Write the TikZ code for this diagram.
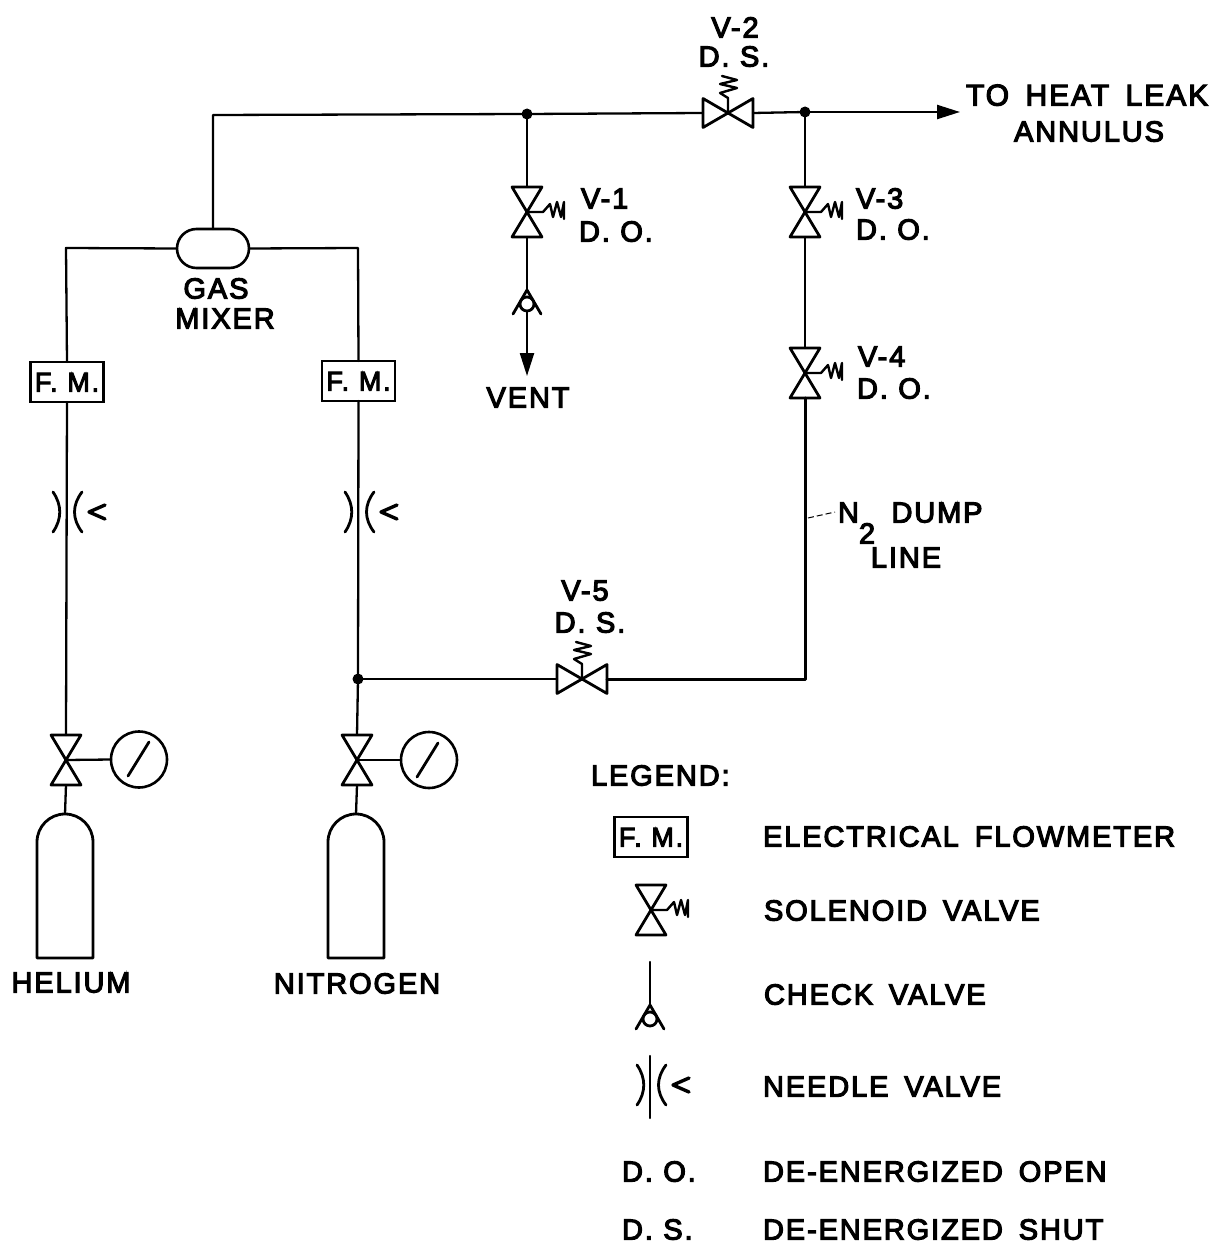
\documentclass[tikz,border=0pt]{standalone}
\usepackage{fontspec}
\setmainfont[LetterSpace=6.5,WordSpace=1.6,FakeBold=4]{Liberation Sans}
\newfontfamily\tight[LetterSpace=6.5,WordSpace=1.05,FakeBold=4]{Liberation Sans}
\usetikzlibrary{arrows.meta,shapes.misc}
\tikzset{
 pipe/.style={line width=2.3pt,line cap=round,line join=round},
 heavy/.style={line width=3pt,line cap=round,line join=round},
 sym/.style={line width=2.8pt,line join=round,line cap=round},
 vbox/.style={minimum width=30pt,minimum height=50pt,inner sep=0pt,outer sep=0pt},
 hbox/.style={minimum width=50pt,minimum height=29pt,inner sep=0pt,outer sep=0pt},
 fmbox/.style={draw,line width=2.8pt,minimum width=73pt,minimum height=40pt,inner sep=0pt,outer sep=0pt,font=\fontsize{27}{27}\selectfont\tight,text height=19pt,text depth=0pt},
 gaugebox/.style={draw,circle,line width=2.6pt,minimum size=56pt,inner sep=0pt,outer sep=0pt},
 dotnode/.style={fill,circle,minimum size=11pt,inner sep=0pt,outer sep=0pt},
 label/.style={font=\fontsize{29}{29}\selectfont,inner sep=0pt,outer sep=0pt,text height=21pt,text depth=0pt},
 short/.style={label,font=\fontsize{29}{29}\selectfont\tight},
 mixer/.style={draw,rounded rectangle,line width=2.6pt,minimum width=72pt,minimum height=39pt,inner sep=0pt,outer sep=0pt},
 arrowline/.style={pipe,-{Triangle[length=23pt,width=14pt]}},
}
\newcommand\vvalve[2]{\node[vbox] (#1) at (#2) {};
 \draw[sym] (#1.north west) -- (#1.north east) -- (#1.south west) -- (#1.south east) -- cycle;}
\newcommand\hvalve[2]{\node[hbox] (#1) at (#2) {};
 \draw[sym] (#1.north west) -- (#1.south west) -- (#1.north east) -- (#1.south east) -- cycle;}
\newcommand\sprR[1]{\draw[line width=2.4pt,line join=round,line cap=round] (#1.center) -- ++(16,0) -- ++(7,-8) -- ++(3,13) -- ++(4,-15) -- ++(4,15) -- ++(3,-15) -- ++(0,17);}
\newcommand\sprU[1]{\draw[line width=2.4pt,line join=round,line cap=round] (#1.center) -- ++(0,-15) -- ++(-8,-5) -- ++(17,-5) -- ++(-17,-4) -- ++(17,-4) -- ++(-15,-4);}
\newcommand\needle[2]{\draw[sym] (#1-13,#2-20) .. controls (#1-4,#2-7) and (#1-4,#2+7) .. (#1-13,#2+20);
 \draw[sym] (#1+16,#2-20) .. controls (#1+6,#2-7) and (#1+6,#2+7) .. (#1+16,#2+20);
 \draw[line width=3.4pt,line cap=round,line join=round] (#1+39,#2-7) -- (#1+23,#2) -- (#1+39,#2+7);}
\newcommand\checkv[2]{\draw[sym] (#1-14,#2+24) -- (#1,#2) -- (#1+14,#2+24);
 \draw[sym,fill=white] (#1,#2+14) circle[radius=7pt];}
\newcommand\cylinder[2]{\draw[sym] (#1-28,958) -- (#1-28,842) arc[start angle=180,end angle=0,radius=28pt] -- (#1+28,958) -- cycle;
 \coordinate (#2) at (#1,814);}
\begin{document}
\begin{tikzpicture}[x=1pt,y=-1pt]
\useasboundingbox[fill=white] (0,0) rectangle (1217,1246);
% junctions and terminals
\node[dotnode] (j1) at (527,114) {};
\node[dotnode] (j2) at (805,112) {};
\node[dotnode] (j3) at (358,679) {};
\coordinate (topleft) at (213,115);
\coordinate (corner) at (805,679);
\coordinate (arrowend) at (960,112);
\coordinate (ventend) at (527,376);
\coordinate (hecorner) at (66,248);
\coordinate (nicorner) at (358,248);
% gas mixer and flowmeters
\node[mixer] (mix) at (213,248.5) {};
\node[fmbox] (fm1) at (67,382) {F. M.};
\node[fmbox] (fm2) at (358.5,381) {F. M.};
% valves
\vvalve{v1}{527,212} \sprR{v1}
\hvalve{v2}{728,113} \sprU{v2}
\vvalve{v3}{805,212} \sprR{v3}
\vvalve{v4}{805,373} \sprR{v4}
\hvalve{v5}{582,679} \sprU{v5}
\vvalve{vhe}{66,760}
\vvalve{vni}{357,760}
\node[gaugebox] (ghe) at (139,759.5) {};
\node[gaugebox] (gni) at (429,760) {};
\draw[sym] (128,776) -- (149,742);
\draw[sym] (417,777) -- (438,743);
\cylinder{65}{che}
\cylinder{356}{cni}
% check valve
\coordinate (chk) at (527,290);
\coordinate (chkbot) at (527,311);
% connectors
\draw[pipe] (mix.north) -- (topleft) -- (j1) -- (v2.west);
\draw[pipe] (v2.east) -- (j2);
\draw[arrowline] (j2) -- (arrowend);
\draw[pipe] (j1) -- (v1.north);
\draw[pipe] (v1.south) -- (chk);
\draw[arrowline] (chkbot) -- (ventend);
\draw[pipe] (j2) -- (v3.north);
\draw[pipe] (v3.south) -- (v4.north);
\draw[heavy] (v4.south) -- (corner) -- (v5.east);
\draw[pipe] (v5.west) -- (j3);
\draw[pipe] (mix.west) -- (hecorner) -- (fm1.north);
\draw[pipe] (mix.east) -- (nicorner) -- (fm2.north);
\draw[pipe] (fm1.south) -- (vhe.north);
\draw[pipe] (fm2.south) -- (j3) -- (vni.north);
\draw[pipe] (vhe.center) -- (ghe.west);
\draw[pipe] (vni.center) -- (gni.west);
\draw[pipe] (vhe.south) -- (che);
\draw[pipe] (vni.south) -- (cni);
\checkv{527}{290}
\needle{66}{512}
\needle{358}{512}
% N2 leader
\coordinate (leadA) at (808,518);
\coordinate (leadB) at (835,512);
\draw[line width=1pt,dash pattern=on 6pt off 3pt] (leadA) -- (leadB);
% labels
\node[label] (t1) at (735,27) {V-2};
\node[short] (t2) at (734,56) {D. S.};
\node[label,anchor=west,font=\fontsize{30}{30}\selectfont] (t3) at (966,95) {TO HEAT LEAK};
\node[label] (t4) at (1089,131) {ANNULUS};
\node[label,anchor=west] (t5) at (581,198) {V-1};
\node[short,anchor=west] (t6) at (579,231) {D. O.};
\node[label,anchor=west] (t7) at (856,198) {V-3};
\node[short,anchor=west] (t8) at (856,229) {D. O.};
\node[label,anchor=west] (t9) at (858,356) {V-4};
\node[short,anchor=west] (t10) at (857,388) {D. O.};
\node[label] (t11) at (528,397) {VENT};
\node[label] (t12) at (216,288) {GAS};
\node[label] (t13) at (225,318) {MIXER};
\node[short,anchor=west] (t14) at (838,512) {N\raisebox{-21pt}{2}\hspace{6pt} DUMP};
\node[label] (t15) at (906,557) {LINE};
\node[label] (t16) at (585,590) {V-5};
\node[short] (t17) at (590,622) {D. S.};
\node[label] (t18) at (71,982) {HELIUM};
\node[label] (t19) at (357,983) {NITROGEN};
% legend
\node[label,anchor=west] (t20) at (591,775) {LEGEND:};
\node[fmbox] (lfm) at (651,837) {F. M.};
\vvalve{lv}{651,910} \sprR{lv}
\coordinate (lcktop) at (650,962);
\coordinate (lckbot) at (650,1005);
\draw[pipe] (lcktop) -- (lckbot);
\checkv{650}{1005}
\coordinate (lntop) at (650,1056);
\coordinate (lnbot) at (650,1118);
\draw[pipe] (lntop) -- (lnbot);
\needle{650}{1085}
\node[label,anchor=west] (l1) at (763,836) {ELECTRICAL FLOWMETER};
\node[label,anchor=west] (l2) at (764,910) {SOLENOID VALVE};
\node[label,anchor=west] (l3) at (764,994) {CHECK VALVE};
\node[label,anchor=west] (l4) at (763,1086) {NEEDLE VALVE};
\node[short,anchor=west] (l5) at (622,1171) {D. O.};
\node[label,anchor=west] (l6) at (763,1171) {DE-ENERGIZED OPEN};
\node[short,anchor=west] (l7) at (622,1229) {D. S.};
\node[label,anchor=west] (l8) at (763,1229) {DE-ENERGIZED SHUT};
\end{tikzpicture}
\end{document}
